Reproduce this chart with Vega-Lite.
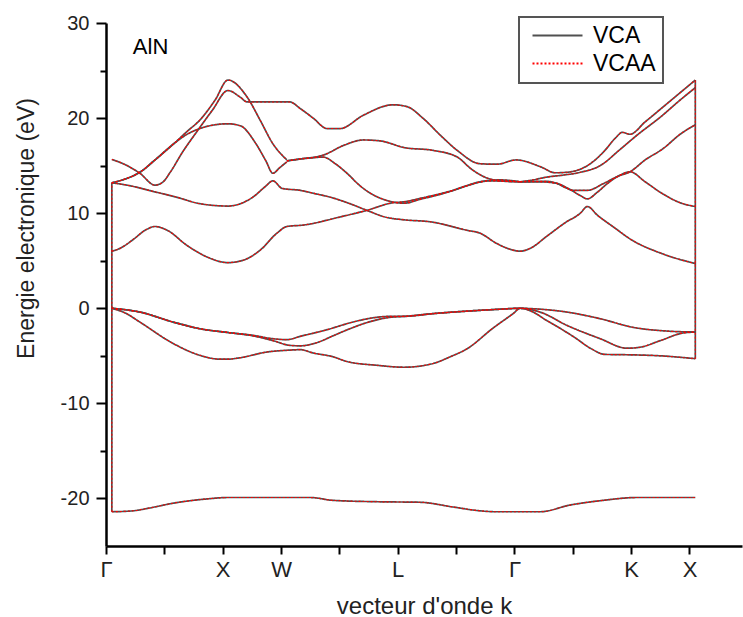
{
"$schema":"https://vega.github.io/schema/vega-lite/v6.json",
"width":636,"height":523,
"autosize":{"type":"none"},
"padding":{"left":106,"top":23,"right":1,"bottom":71},
"background":"white",
"config":{"view":{"stroke":null},"font":"Liberation Sans",
 "axis":{"grid":false,"domainColor":"#000","domainWidth":2.5,"tickColor":"#000","tickWidth":2,"labelFont":"Liberation Sans","titleFont":"Liberation Sans","labelColor":"#222","titleColor":"#222","titleFontWeight":"normal"},
 "legend":{"strokeColor":"#555","strokeWidth":2}},
"datasets":{
"lab":[{"k":0.46,"E":27.5,"t":"AlN"}],
"bands":[
{"b":"S","k":0.10,"VCA":-21.4,"VCAA":-21.4},{"b":"S","k":0.46,"VCA":-21.3,"VCAA":-21.3},{"b":"S","k":0.75,"VCA":-21.0,"VCAA":-21.0},{"b":"S","k":1.15,"VCA":-20.5,"VCAA":-20.5},{"b":"S","k":1.73,"VCA":-20.05,"VCAA":-20.05},{"b":"S","k":2.09,"VCA":-19.9,"VCAA":-19.9},{"b":"S","k":3.50,"VCA":-19.9,"VCAA":-19.9},{"b":"S","k":3.89,"VCA":-20.2,"VCAA":-20.2},{"b":"S","k":4.70,"VCA":-20.35,"VCAA":-20.35},{"b":"S","k":5.38,"VCA":-20.4,"VCAA":-20.4},{"b":"S","k":5.95,"VCA":-20.9,"VCAA":-20.9},{"b":"S","k":6.41,"VCA":-21.3,"VCAA":-21.3},{"b":"S","k":6.70,"VCA":-21.4,"VCAA":-21.4},{"b":"S","k":7.44,"VCA":-21.4,"VCAA":-21.4},{"b":"S","k":7.95,"VCA":-20.7,"VCAA":-20.7},{"b":"S","k":8.52,"VCA":-20.2,"VCAA":-20.2},{"b":"S","k":9.10,"VCA":-19.9,"VCAA":-19.9},{"b":"S","k":10.10,"VCA":-19.9,"VCAA":-19.9},
{"b":"V1","k":0.10,"VCA":0,"VCAA":0},{"b":"V1","k":0.58,"VCA":-0.4,"VCAA":-0.4},{"b":"V1","k":1.15,"VCA":-1.45,"VCAA":-1.45},{"b":"V1","k":1.61,"VCA":-2.15,"VCAA":-2.15},{"b":"V1","k":2.09,"VCA":-2.55,"VCAA":-2.55},{"b":"V1","k":2.52,"VCA":-2.85,"VCAA":-2.85},{"b":"V1","k":2.86,"VCA":-3.2,"VCAA":-3.2},{"b":"V1","k":3.10,"VCA":-3.3,"VCAA":-3.3},{"b":"V1","k":3.33,"VCA":-2.95,"VCAA":-2.95},{"b":"V1","k":3.79,"VCA":-2.25,"VCAA":-2.25},{"b":"V1","k":4.23,"VCA":-1.45,"VCAA":-1.45},{"b":"V1","k":4.58,"VCA":-1.0,"VCAA":-1.0},{"b":"V1","k":4.87,"VCA":-0.85,"VCAA":-0.85},{"b":"V1","k":5.11,"VCA":-0.85,"VCAA":-0.85},{"b":"V1","k":5.61,"VCA":-0.56,"VCAA":-0.56},{"b":"V1","k":6.19,"VCA":-0.3,"VCAA":-0.3},{"b":"V1","k":6.75,"VCA":-0.1,"VCAA":-0.1},{"b":"V1","k":7.10,"VCA":0,"VCAA":0},{"b":"V1","k":7.32,"VCA":-0.05,"VCAA":-0.05},{"b":"V1","k":7.90,"VCA":-0.4,"VCAA":-0.4},{"b":"V1","k":8.47,"VCA":-1.1,"VCAA":-1.1},{"b":"V1","k":9.03,"VCA":-2.0,"VCAA":-2.0},{"b":"V1","k":9.62,"VCA":-2.4,"VCAA":-2.4},{"b":"V1","k":10.10,"VCA":-2.5,"VCAA":-2.5},
{"b":"V2","k":0.10,"VCA":0,"VCAA":0},{"b":"V2","k":0.58,"VCA":-0.4,"VCAA":-0.4},{"b":"V2","k":1.15,"VCA":-1.45,"VCAA":-1.45},{"b":"V2","k":1.61,"VCA":-2.15,"VCAA":-2.15},{"b":"V2","k":2.09,"VCA":-2.55,"VCAA":-2.55},{"b":"V2","k":2.52,"VCA":-2.9,"VCAA":-2.9},{"b":"V2","k":2.86,"VCA":-3.4,"VCAA":-3.4},{"b":"V2","k":3.15,"VCA":-3.9,"VCAA":-3.9},{"b":"V2","k":3.33,"VCA":-3.95,"VCAA":-3.95},{"b":"V2","k":3.62,"VCA":-3.6,"VCAA":-3.6},{"b":"V2","k":3.89,"VCA":-2.9,"VCAA":-2.9},{"b":"V2","k":4.18,"VCA":-2.15,"VCAA":-2.15},{"b":"V2","k":4.53,"VCA":-1.4,"VCAA":-1.4},{"b":"V2","k":4.87,"VCA":-0.95,"VCAA":-0.95},{"b":"V2","k":5.11,"VCA":-0.85,"VCAA":-0.85},{"b":"V2","k":5.61,"VCA":-0.56,"VCAA":-0.56},{"b":"V2","k":6.19,"VCA":-0.3,"VCAA":-0.3},{"b":"V2","k":6.75,"VCA":-0.1,"VCAA":-0.1},{"b":"V2","k":7.10,"VCA":0,"VCAA":0},{"b":"V2","k":7.44,"VCA":-0.4,"VCAA":-0.4},{"b":"V2","k":7.90,"VCA":-1.8,"VCAA":-1.8},{"b":"V2","k":8.47,"VCA":-3.2,"VCAA":-3.2},{"b":"V2","k":8.93,"VCA":-4.2,"VCAA":-4.2},{"b":"V2","k":9.15,"VCA":-4.1,"VCAA":-4.1},{"b":"V2","k":9.50,"VCA":-3.4,"VCAA":-3.4},{"b":"V2","k":9.89,"VCA":-2.6,"VCAA":-2.6},{"b":"V2","k":10.10,"VCA":-2.5,"VCAA":-2.5},
{"b":"V3","k":0.10,"VCA":0,"VCAA":0},{"b":"V3","k":0.33,"VCA":-0.5,"VCAA":-0.5},{"b":"V3","k":0.58,"VCA":-1.45,"VCAA":-1.45},{"b":"V3","k":1.15,"VCA":-3.7,"VCAA":-3.7},{"b":"V3","k":1.61,"VCA":-4.95,"VCAA":-4.95},{"b":"V3","k":1.95,"VCA":-5.35,"VCAA":-5.35},{"b":"V3","k":2.09,"VCA":-5.35,"VCAA":-5.35},{"b":"V3","k":2.30,"VCA":-5.2,"VCAA":-5.2},{"b":"V3","k":2.76,"VCA":-4.6,"VCAA":-4.6},{"b":"V3","k":3.15,"VCA":-4.4,"VCAA":-4.4},{"b":"V3","k":3.33,"VCA":-4.35,"VCAA":-4.35},{"b":"V3","k":3.55,"VCA":-4.7,"VCAA":-4.7},{"b":"V3","k":3.89,"VCA":-5.1,"VCAA":-5.1},{"b":"V3","k":4.13,"VCA":-5.6,"VCAA":-5.6},{"b":"V3","k":4.65,"VCA":-6.0,"VCAA":-6.0},{"b":"V3","k":5.11,"VCA":-6.2,"VCAA":-6.2},{"b":"V3","k":5.61,"VCA":-5.8,"VCAA":-5.8},{"b":"V3","k":5.90,"VCA":-5.1,"VCAA":-5.1},{"b":"V3","k":6.19,"VCA":-4.25,"VCAA":-4.25},{"b":"V3","k":6.63,"VCA":-2.1,"VCAA":-2.1},{"b":"V3","k":6.98,"VCA":-0.55,"VCAA":-0.55},{"b":"V3","k":7.10,"VCA":0,"VCAA":0},{"b":"V3","k":7.32,"VCA":-0.4,"VCAA":-0.4},{"b":"V3","k":7.53,"VCA":-1.2,"VCAA":-1.2},{"b":"V3","k":7.78,"VCA":-2.1,"VCAA":-2.1},{"b":"V3","k":8.04,"VCA":-3.1,"VCAA":-3.1},{"b":"V3","k":8.30,"VCA":-4.2,"VCAA":-4.2},{"b":"V3","k":8.55,"VCA":-4.85,"VCAA":-4.85},{"b":"V3","k":9.03,"VCA":-4.9,"VCAA":-4.9},{"b":"V3","k":9.50,"VCA":-5.0,"VCAA":-5.0},{"b":"V3","k":10.10,"VCA":-5.3,"VCAA":-5.3},
{"b":"E","k":0.10,"VCA":6.0,"VCAA":6.0},{"b":"E","k":0.24,"VCA":6.3,"VCAA":6.3},{"b":"E","k":0.46,"VCA":7.2,"VCAA":7.2},{"b":"E","k":0.67,"VCA":8.2,"VCAA":8.2},{"b":"E","k":0.84,"VCA":8.6,"VCAA":8.6},{"b":"E","k":1.05,"VCA":8.2,"VCAA":8.2},{"b":"E","k":1.39,"VCA":6.6,"VCAA":6.6},{"b":"E","k":1.73,"VCA":5.4,"VCAA":5.4},{"b":"E","k":2.09,"VCA":4.8,"VCAA":4.8},{"b":"E","k":2.35,"VCA":5.05,"VCAA":5.05},{"b":"E","k":2.64,"VCA":6.1,"VCAA":6.1},{"b":"E","k":2.93,"VCA":7.9,"VCAA":7.9},{"b":"E","k":3.10,"VCA":8.6,"VCAA":8.6},{"b":"E","k":3.38,"VCA":8.75,"VCAA":8.75},{"b":"E","k":4.01,"VCA":9.6,"VCAA":9.6},{"b":"E","k":4.47,"VCA":10.3,"VCAA":10.3},{"b":"E","k":4.92,"VCA":11.1,"VCAA":11.1},{"b":"E","k":5.11,"VCA":11.2,"VCAA":11.2},{"b":"E","k":5.38,"VCA":11.55,"VCAA":11.55},{"b":"E","k":5.95,"VCA":12.4,"VCAA":12.4},{"b":"E","k":6.41,"VCA":13.3,"VCAA":13.3},{"b":"E","k":6.75,"VCA":13.5,"VCAA":13.5},{"b":"E","k":7.10,"VCA":13.3,"VCAA":13.3},
{"b":"D","k":0.10,"VCA":13.2,"VCAA":13.2},{"b":"D","k":0.40,"VCA":12.9,"VCAA":12.9},{"b":"D","k":0.80,"VCA":12.3,"VCAA":12.3},{"b":"D","k":1.20,"VCA":11.7,"VCAA":11.7},{"b":"D","k":1.61,"VCA":11.0,"VCAA":11.0},{"b":"D","k":2.09,"VCA":10.75,"VCAA":10.75},{"b":"D","k":2.52,"VCA":11.7,"VCAA":11.7},{"b":"D","k":2.73,"VCA":12.8,"VCAA":12.8},{"b":"D","k":2.86,"VCA":13.4,"VCAA":13.4},{"b":"D","k":3.02,"VCA":12.6,"VCAA":12.6},{"b":"D","k":3.33,"VCA":12.4,"VCAA":12.4},{"b":"D","k":3.55,"VCA":12.1,"VCAA":12.1},{"b":"D","k":3.89,"VCA":11.6,"VCAA":11.6},{"b":"D","k":4.18,"VCA":11.0,"VCAA":11.0},{"b":"D","k":4.47,"VCA":10.3,"VCAA":10.3},{"b":"D","k":4.78,"VCA":9.6,"VCAA":9.6},{"b":"D","k":5.11,"VCA":9.3,"VCAA":9.3},{"b":"D","k":5.55,"VCA":9.1,"VCAA":9.1},{"b":"D","k":6.19,"VCA":8.2,"VCAA":8.2},{"b":"D","k":6.41,"VCA":7.9,"VCAA":7.9},{"b":"D","k":6.70,"VCA":6.8,"VCAA":6.8},{"b":"D","k":6.93,"VCA":6.2,"VCAA":6.2},{"b":"D","k":7.10,"VCA":6.0,"VCAA":6.0},{"b":"D","k":7.27,"VCA":6.3,"VCAA":6.3},{"b":"D","k":7.56,"VCA":7.6,"VCAA":7.6},{"b":"D","k":7.87,"VCA":9.0,"VCAA":9.0},{"b":"D","k":8.13,"VCA":10.0,"VCAA":10.0},{"b":"D","k":8.25,"VCA":10.7,"VCAA":10.7},{"b":"D","k":8.42,"VCA":9.8,"VCAA":9.8},{"b":"D","k":8.73,"VCA":8.4,"VCAA":8.4},{"b":"D","k":8.98,"VCA":7.3,"VCAA":7.3},{"b":"D","k":9.55,"VCA":5.7,"VCAA":5.7},{"b":"D","k":10.10,"VCA":4.7,"VCAA":4.7},
{"b":"T1","k":0.10,"VCA":13.2,"VCAA":13.2},{"b":"T1","k":0.33,"VCA":13.6,"VCAA":13.6},{"b":"T1","k":0.58,"VCA":14.3,"VCAA":14.3},{"b":"T1","k":0.84,"VCA":15.6,"VCAA":15.6},{"b":"T1","k":1.18,"VCA":17.4,"VCAA":17.4},{"b":"T1","k":1.39,"VCA":18.6,"VCAA":18.6},{"b":"T1","k":1.61,"VCA":19.8,"VCAA":19.8},{"b":"T1","k":1.87,"VCA":21.9,"VCAA":21.9},{"b":"T1","k":2.09,"VCA":24.0,"VCAA":24.0},{"b":"T1","k":2.42,"VCA":22.2,"VCAA":22.2},{"b":"T1","k":2.64,"VCA":19.8,"VCAA":19.8},{"b":"T1","k":2.86,"VCA":17.3,"VCAA":17.3},{"b":"T1","k":3.10,"VCA":15.6,"VCAA":15.6},
{"b":"T2","k":0.10,"VCA":13.2,"VCAA":13.2},{"b":"T2","k":0.33,"VCA":13.6,"VCAA":13.6},{"b":"T2","k":0.58,"VCA":14.3,"VCAA":14.3},{"b":"T2","k":0.84,"VCA":15.6,"VCAA":15.6},{"b":"T2","k":1.18,"VCA":17.4,"VCAA":17.4},{"b":"T2","k":1.39,"VCA":18.3,"VCAA":18.3},{"b":"T2","k":1.61,"VCA":18.9,"VCAA":18.9},{"b":"T2","k":1.87,"VCA":19.3,"VCAA":19.3},{"b":"T2","k":2.09,"VCA":19.4,"VCAA":19.4},{"b":"T2","k":2.30,"VCA":19.2,"VCAA":19.2},{"b":"T2","k":2.57,"VCA":17.3,"VCAA":17.3},{"b":"T2","k":2.74,"VCA":15.5,"VCAA":15.5},{"b":"T2","k":2.86,"VCA":14.2,"VCAA":14.2},{"b":"T2","k":2.98,"VCA":14.8,"VCAA":14.8},{"b":"T2","k":3.10,"VCA":15.4,"VCAA":15.4},
{"b":"R","k":0.10,"VCA":15.65,"VCAA":15.65},{"b":"R","k":0.33,"VCA":15.1,"VCAA":15.1},{"b":"R","k":0.58,"VCA":14.2,"VCAA":14.2},{"b":"R","k":0.84,"VCA":12.95,"VCAA":12.95},{"b":"R","k":0.98,"VCA":13.3,"VCAA":13.3},{"b":"R","k":1.10,"VCA":14.3,"VCAA":14.3},{"b":"R","k":1.32,"VCA":16.5,"VCAA":16.5},{"b":"R","k":1.56,"VCA":18.6,"VCAA":18.6},{"b":"R","k":1.82,"VCA":20.8,"VCAA":20.8},{"b":"R","k":2.09,"VCA":22.9,"VCAA":22.9},{"b":"R","k":2.30,"VCA":22.2,"VCAA":22.2},{"b":"R","k":2.42,"VCA":21.7,"VCAA":21.7},{"b":"R","k":2.81,"VCA":21.7,"VCAA":21.7},{"b":"R","k":3.15,"VCA":21.7,"VCAA":21.7},{"b":"R","k":3.33,"VCA":21.0,"VCAA":21.0},{"b":"R","k":3.55,"VCA":20.0,"VCAA":20.0},{"b":"R","k":3.79,"VCA":18.9,"VCAA":18.9},{"b":"R","k":4.01,"VCA":18.9,"VCAA":18.9},{"b":"R","k":4.41,"VCA":20.3,"VCAA":20.3},{"b":"R","k":4.92,"VCA":21.4,"VCAA":21.4},{"b":"R","k":5.16,"VCA":21.2,"VCAA":21.2},{"b":"R","k":5.43,"VCA":20.0,"VCAA":20.0},{"b":"R","k":5.73,"VCA":18.2,"VCAA":18.2},{"b":"R","k":6.02,"VCA":16.6,"VCAA":16.6},{"b":"R","k":6.41,"VCA":15.2,"VCAA":15.2},{"b":"R","k":6.70,"VCA":15.15,"VCAA":15.15},{"b":"R","k":7.03,"VCA":15.6,"VCAA":15.6},{"b":"R","k":7.44,"VCA":14.9,"VCAA":14.9},{"b":"R","k":7.70,"VCA":14.25,"VCAA":14.25},{"b":"R","k":7.90,"VCA":14.3,"VCAA":14.3},{"b":"R","k":8.30,"VCA":15.2,"VCAA":15.2},{"b":"R","k":8.55,"VCA":16.6,"VCAA":16.6},{"b":"R","k":8.73,"VCA":17.9,"VCAA":17.9},{"b":"R","k":8.85,"VCA":18.5,"VCAA":18.5},{"b":"R","k":8.98,"VCA":18.3,"VCAA":18.3},{"b":"R","k":9.24,"VCA":19.6,"VCAA":19.6},{"b":"R","k":9.67,"VCA":21.8,"VCAA":21.8},{"b":"R","k":10.10,"VCA":24.0,"VCAA":24.0},
{"b":"B","k":3.10,"VCA":15.5,"VCAA":15.5},{"b":"B","k":3.33,"VCA":15.7,"VCAA":15.7},{"b":"B","k":3.72,"VCA":16.1,"VCAA":16.1},{"b":"B","k":4.10,"VCA":17.2,"VCAA":17.2},{"b":"B","k":4.41,"VCA":17.7,"VCAA":17.7},{"b":"B","k":4.70,"VCA":17.6,"VCAA":17.6},{"b":"B","k":5.11,"VCA":16.9,"VCAA":16.9},{"b":"B","k":5.61,"VCA":16.6,"VCAA":16.6},{"b":"B","k":6.02,"VCA":15.9,"VCAA":15.9},{"b":"B","k":6.27,"VCA":14.6,"VCAA":14.6},{"b":"B","k":6.53,"VCA":13.7,"VCAA":13.7},{"b":"B","k":6.84,"VCA":13.35,"VCAA":13.35},{"b":"B","k":7.10,"VCA":13.3,"VCAA":13.3},
{"b":"C","k":3.10,"VCA":15.5,"VCAA":15.5},{"b":"C","k":3.33,"VCA":15.7,"VCAA":15.7},{"b":"C","k":3.50,"VCA":15.8,"VCAA":15.8},{"b":"C","k":3.72,"VCA":15.9,"VCAA":15.9},{"b":"C","k":3.93,"VCA":15.2,"VCAA":15.2},{"b":"C","k":4.13,"VCA":14.2,"VCAA":14.2},{"b":"C","k":4.35,"VCA":12.9,"VCAA":12.9},{"b":"C","k":4.53,"VCA":12.1,"VCAA":12.1},{"b":"C","k":4.78,"VCA":11.4,"VCAA":11.4},{"b":"C","k":5.11,"VCA":11.05,"VCAA":11.05},{"b":"C","k":5.38,"VCA":11.45,"VCAA":11.45},{"b":"C","k":5.85,"VCA":12.2,"VCAA":12.2},{"b":"C","k":6.19,"VCA":12.9,"VCAA":12.9},{"b":"C","k":6.58,"VCA":13.4,"VCAA":13.4},{"b":"C","k":7.10,"VCA":13.3,"VCAA":13.3},
{"b":"U2","k":7.10,"VCA":13.3,"VCAA":13.3},{"b":"U2","k":7.32,"VCA":13.5,"VCAA":13.5},{"b":"U2","k":7.56,"VCA":13.8,"VCAA":13.8},{"b":"U2","k":7.83,"VCA":14.0,"VCAA":14.0},{"b":"U2","k":8.13,"VCA":14.3,"VCAA":14.3},{"b":"U2","k":8.47,"VCA":15.0,"VCAA":15.0},{"b":"U2","k":8.81,"VCA":16.7,"VCAA":16.7},{"b":"U2","k":9.10,"VCA":18.2,"VCAA":18.2},{"b":"U2","k":9.50,"VCA":20.1,"VCAA":20.1},{"b":"U2","k":9.84,"VCA":21.9,"VCAA":21.9},{"b":"U2","k":10.10,"VCA":23.2,"VCAA":23.2},
{"b":"P","k":7.10,"VCA":13.3,"VCAA":13.3},{"b":"P","k":7.44,"VCA":13.3,"VCAA":13.3},{"b":"P","k":7.71,"VCA":13.15,"VCAA":13.15},{"b":"P","k":7.87,"VCA":12.7,"VCAA":12.7},{"b":"P","k":8.01,"VCA":12.4,"VCAA":12.4},{"b":"P","k":8.25,"VCA":12.4,"VCAA":12.4},{"b":"P","k":8.52,"VCA":13.1,"VCAA":13.1},{"b":"P","k":8.78,"VCA":13.9,"VCAA":13.9},{"b":"P","k":8.98,"VCA":14.35,"VCAA":14.35},{"b":"P","k":9.24,"VCA":15.6,"VCAA":15.6},{"b":"P","k":9.55,"VCA":16.8,"VCAA":16.8},{"b":"P","k":9.84,"VCA":18.3,"VCAA":18.3},{"b":"P","k":10.10,"VCA":19.3,"VCAA":19.3},
{"b":"Q","k":7.10,"VCA":13.3,"VCAA":13.3},{"b":"Q","k":7.53,"VCA":13.35,"VCAA":13.35},{"b":"Q","k":7.75,"VCA":13.1,"VCAA":13.1},{"b":"Q","k":7.95,"VCA":12.5,"VCAA":12.5},{"b":"Q","k":8.13,"VCA":11.85,"VCAA":11.85},{"b":"Q","k":8.25,"VCA":11.5,"VCAA":11.5},{"b":"Q","k":8.42,"VCA":12.2,"VCAA":12.2},{"b":"Q","k":8.59,"VCA":13.1,"VCAA":13.1},{"b":"Q","k":8.81,"VCA":14.0,"VCAA":14.0},{"b":"Q","k":8.98,"VCA":14.35,"VCAA":14.35},{"b":"Q","k":9.24,"VCA":13.3,"VCAA":13.3},{"b":"Q","k":9.55,"VCA":12.0,"VCAA":12.0},{"b":"Q","k":9.84,"VCA":11.1,"VCAA":11.1},{"b":"Q","k":10.10,"VCA":10.7,"VCAA":10.7},
{"b":"vL","k":0.10,"VCA":-21.4,"VCAA":-21.4},{"b":"vL","k":0.10,"VCA":13.2,"VCAA":13.2},
{"b":"vR","k":10.10,"VCA":-5.3,"VCAA":-5.3},{"b":"vR","k":10.10,"VCA":24.0,"VCAA":24.0}
]},
"encoding":{
 "x":{"field":"k","type":"quantitative","scale":{"domain":[0,10.9],"nice":false,"zero":false},
  "axis":{"values":[0,1,2,3,4,5,6,7,8,9,10],"labelExpr":"datum.value==0?'Γ':datum.value==2?'X':datum.value==3?'W':datum.value==5?'L':datum.value==7?'Γ':datum.value==9?'K':datum.value==10?'X':''","labelFlush":false,"labelOverlap":false,"tickSize":8,"labelPadding":5,"labelFontSize":22,"title":"vecteur d'onde k","titleFontSize":24,"titleY":67,"titleBaseline":"alphabetic"}},
 "y":{"field":"E","type":"quantitative","scale":{"domain":[-25,30],"nice":false,"zero":false},
  "axis":{"values":[-20,-15,-10,-5,0,5,10,15,20,25,30],"labelExpr":"datum.value % 10 == 0 ? '' + datum.value : ''","tickSize":{"expr":"datum.value % 10 == 0 ? 10 : 6"},"labelPadding":7,"labelFontSize":20,"title":"Energie electronique (eV)","titleFontSize":23,"titleX":-73,"titleY":205,"titleBaseline":"alphabetic"}}
},
"layer":[
 {"data":{"name":"bands"},"transform":[{"fold":["VCA","VCAA"],"as":["series","E"]}],
  "layer":[
   {"transform":[{"filter":"datum.series == 'VCA'"}],"mark":{"type":"line","interpolate":"monotone","strokeWidth":1.7},
    "encoding":{"detail":{"field":"b"},
     "color":{"field":"series","type":"nominal","scale":{"domain":["VCA","VCAA"],"range":["#505050","#ff0000"]},"legend":{"orient":"none","legendX":413,"legendY":-6,"title":null,"symbolType":"M-0.5,0H4.5","symbolSize":400,"symbolStrokeWidth":2,"labelFontSize":23,"labelColor":"#000","padding":7,"symbolOffset":0,"rowPadding":4,"labelOffset":44,"fillColor":"white"}},
     "strokeDash":{"field":"series","type":"nominal","scale":{"domain":["VCA","VCAA"],"range":[[1,0],[2,2]]},"legend":{"orient":"none","legendX":413,"legendY":-6,"title":null}}}},
   {"transform":[{"filter":"datum.series == 'VCAA'"}],"mark":{"type":"line","interpolate":"monotone","strokeWidth":1.1},
    "encoding":{"detail":{"field":"b"},
     "color":{"field":"series","type":"nominal"},
     "strokeDash":{"field":"series","type":"nominal"}}}
  ]},
 {"data":{"name":"lab"},"mark":{"type":"text","align":"left","baseline":"middle","fontSize":22,"font":"Liberation Sans","color":"#000"},"encoding":{"text":{"field":"t"}}}
]
}
